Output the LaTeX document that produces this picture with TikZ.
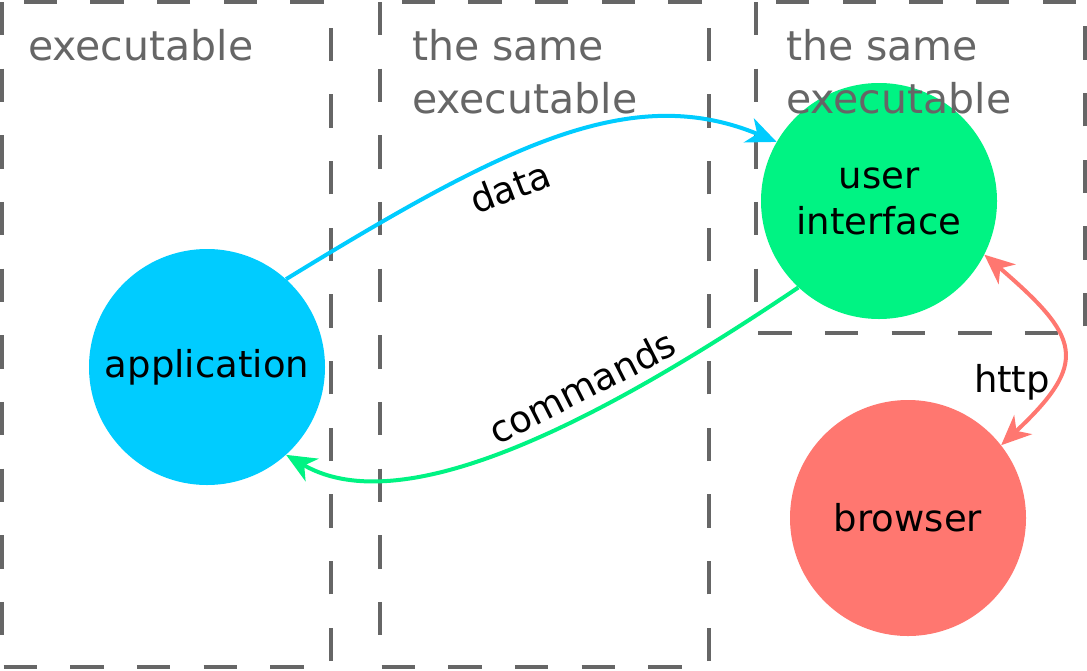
\documentclass[tikz,border=0pt]{standalone}
\usepackage{fontspec}
\setmainfont{DejaVu Sans}
\usepackage{tikz}
\usepackage{xcolor}
\usetikzlibrary{shapes,arrows.meta}

\definecolor{appblue}{HTML}{00CCFF}
\definecolor{uigreen}{HTML}{00F383}
\definecolor{webred}{HTML}{FF7770}
\definecolor{boxgray}{HTML}{666666}

\tikzset{
  proc/.style={circle, minimum size=236pt, inner sep=0pt, align=center, font=\fontsize{37}{46}\selectfont},
  exebox/.style={draw=boxgray, line width=4pt, dash pattern=on 33.33pt off 33.33pt},
  exelabel/.style={anchor=base west, text=boxgray, align=left, inner sep=0pt, font=\fontsize{41}{53}\selectfont},
  link/.style={line width=4pt, arrows={-Stealth[length=30pt, width=26pt, inset=9pt]}},
  linklabel/.style={inner sep=0pt, font=\fontsize{37}{46}\selectfont}
}

\begin{document}
\begin{tikzpicture}[x=1pt,y=-1pt]
  \useasboundingbox (0,0) rectangle (1087,670);

  \foreach \xa/\ya/\xb/\yb in {2/2/331/667, 380/2/709/667, 756/2/1085/333}{
    \draw[exebox] (\xa,\ya) rectangle (\xb,\yb); }

  \foreach \x/\y/\col/\nm/\txt in {207/367/appblue/app/application, 879/201/uigreen/ui/user\\interface, 908/518/webred/browser/browser}{
    \node[proc, fill=\col] (\nm) at (\x,\y) {\txt}; }

  % base west of a two-line node is its last baseline
  \node[exelabel] (exe) at (28,60) {executable};
  \node[exelabel] (same1) at (412,113) {the same\\executable};
  \node[exelabel] (same2) at (786,113) {the same\\executable};

  \draw[link, appblue] (app.48) .. controls (502,147) and (630,81) .. (ui.150);
  \node[linklabel, rotate=21] (data) at (510,187) {data};

  \draw[link, uigreen] (ui.227) .. controls (625,404) and (410,527) .. (app.-48);
  \node[linklabel, rotate=27] (cmds) at (582,387) {commands};

  \draw[link, webred, arrows={Stealth[length=30pt, width=26pt, inset=9pt]-Stealth[length=30pt, width=26pt, inset=9pt]}] (ui.-27) .. controls (1080,337) and (1090,362) .. (browser.38);
  \node[linklabel, anchor=base] (http) at (1012,392) {http};
\end{tikzpicture}
\end{document}
